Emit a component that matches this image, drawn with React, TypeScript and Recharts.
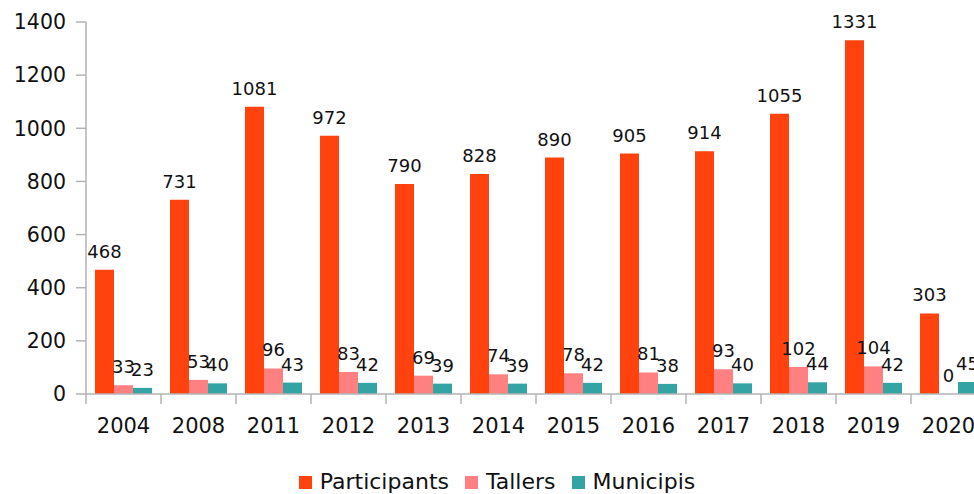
import React from "react";
import { BarChart, Bar, XAxis, YAxis, Legend, LabelList } from "recharts";

const years = ["2004", "2008", "2011", "2012", "2013", "2014", "2015", "2016", "2017", "2018", "2019", "2020"];
const participants = [468, 731, 1081, 972, 790, 828, 890, 905, 914, 1055, 1331, 303];
const tallers = [33, 53, 96, 83, 69, 74, 78, 81, 93, 102, 104, 0];
const municipis = [23, 40, 43, 42, 39, 39, 42, 38, 40, 44, 42, 45];
const yTicks = [0, 200, 400, 600, 800, 1000, 1200, 1400];

const seriesNames = ["Participants", "Tallers", "Municipis"];
const colors = ["#FF420E", "#FF8080", "#33A3A3"];

const data = years.map((y, i) => ({
  year: y,
  Participants: participants[i],
  Tallers: tallers[i],
  Municipis: municipis[i],
}));

const FONT = "'DejaVu Sans', Verdana, sans-serif";
const AXIS_COLOR = "#b3b3b3";
const TICK_SIZE = 10;
const TICK_MARGIN = 14;

const XTick = (props: any) => {
  const { x, y, payload } = props;
  const half = payload && typeof payload.offset === "number" && payload.offset > 0 ? payload.offset : 37.5;
  const axisY = y - TICK_SIZE - TICK_MARGIN;
  return (
    <g>
      <line x1={x - half} x2={x - half} y1={axisY} y2={axisY + TICK_SIZE} stroke={AXIS_COLOR} strokeWidth={1.5} />
      <text x={x} y={y} dy={15} textAnchor="middle" fontSize={21} fontFamily={FONT} fill="#111">
        {payload.value}
      </text>
    </g>
  );
};

const LegendContent = () => (
  <div
    style={{
      display: "flex",
      justifyContent: "center",
      alignItems: "center",
      fontFamily: FONT,
      fontSize: 22,
      lineHeight: "24px",
      color: "#111",
      paddingLeft: 8,
      gap: 16,
    }}
  >
    {seriesNames.map((n, i) => (
      <div key={n} style={{ display: "flex", alignItems: "center" }}>
        <span style={{ display: "inline-block", width: 13, height: 13, background: colors[i], marginRight: 8 }} />
        <span>{n}</span>
      </div>
    ))}
  </div>
);

export default function App() {
  return (
    <div style={{ position: "absolute", left: 0, top: 0, width: 974, height: 494, overflow: "hidden", background: "#fff" }}>
      <BarChart
        width={1000}
        height={494}
        data={data}
        margin={{ top: 22, right: 14, left: 0, bottom: 8 }}
        barCategoryGap="12%"
        barGap={0}
      >
        <YAxis
          width={86}
          domain={[0, 1400]}
          ticks={yTicks}
          interval={0}
          tickSize={TICK_SIZE}
          tickMargin={10}
          axisLine={{ stroke: AXIS_COLOR, strokeWidth: 1.5 }}
          tickLine={{ stroke: AXIS_COLOR, strokeWidth: 1.5 }}
          tick={{ fontSize: 20.5, fontFamily: FONT, fill: "#111" }}
        />
        <XAxis
          dataKey="year"
          height={68}
          interval={0}
          tickSize={TICK_SIZE}
          tickMargin={TICK_MARGIN}
          tickLine={false}
          axisLine={{ stroke: AXIS_COLOR, strokeWidth: 1.5 }}
          tick={<XTick />}
        />
        <Legend verticalAlign="bottom" content={<LegendContent />} wrapperStyle={{ bottom: 0 }} />
        {seriesNames.map((n, i) => (
          <Bar key={n} dataKey={n} fill={colors[i]} minPointSize={0.01} isAnimationActive={false}>
            <LabelList dataKey={n} position="top" offset={12} style={{ fontSize: 18, fontFamily: FONT, fill: "#111" }} />
          </Bar>
        ))}
      </BarChart>
    </div>
  );
}
